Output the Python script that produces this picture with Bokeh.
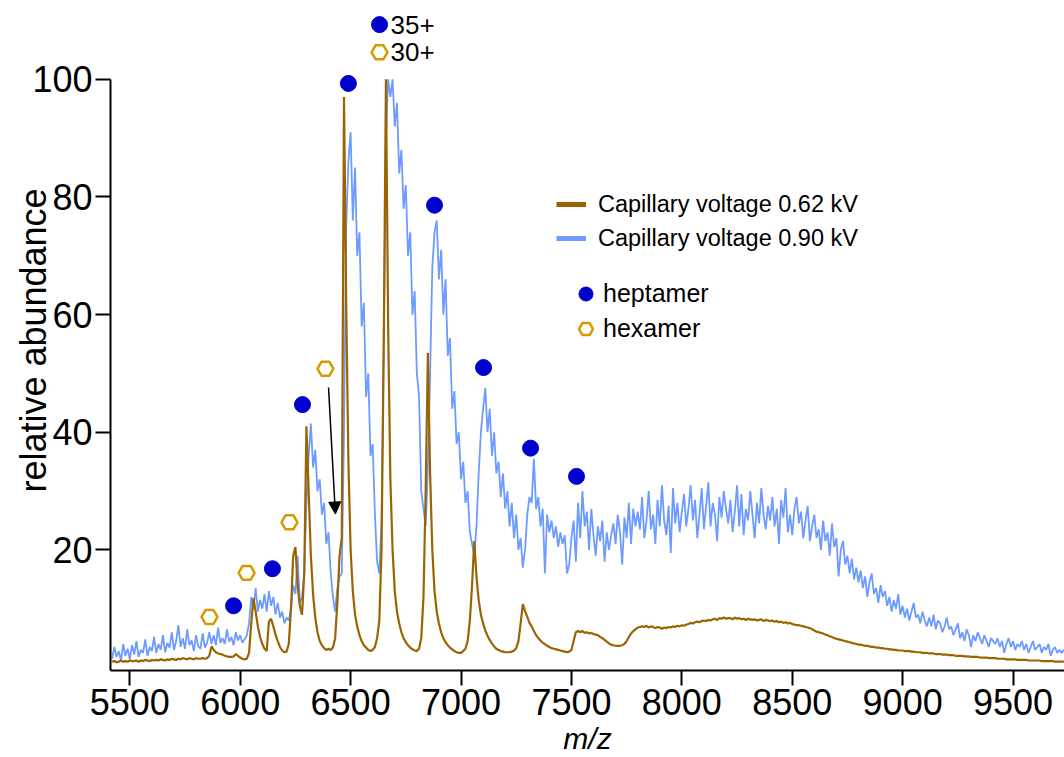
import math
from bokeh.plotting import figure
from bokeh.models import (Range1d, Legend, LegendItem, Arrow, NormalHead, FixedTicker)
from bokeh.core.properties import value
from bokeh.embed import file_html
from bokeh.resources import INLINE

# ---------------- data ----------------
mz_start = 5420
mz_step = 10

# relative abundance, capillary voltage 0.62 kV (brown)
abund_062 = [
    1.0, 1.1, 0.9, 1.0, 1.2, 1.0, 1.1, 1.0, 1.2, 1.1,
    1.1, 1.2, 1.0, 1.2, 1.1, 1.3, 1.2, 1.1, 1.3, 1.2,
    1.3, 1.2, 1.4, 1.3, 1.2, 1.4, 1.3, 1.5, 1.4, 1.3,
    1.5, 1.4, 1.6, 1.5, 1.4, 1.6, 1.5, 1.4, 1.6, 1.5,
    1.5, 1.6, 1.5, 1.6, 2.0, 3.6, 3.0, 2.6, 2.4, 2.3,
    2.2, 2.0, 1.9, 1.8, 1.8, 1.9, 2.3, 2.0, 1.7, 1.5,
    1.4, 1.5, 2.5, 7.5, 11.8, 9.5, 7.0, 5.2, 4.0, 3.2,
    2.8, 7.8, 8.3, 7.0, 5.6, 4.5, 3.5, 2.9, 2.6, 2.7,
    4.0, 10.0, 19.0, 20.5, 14.0, 10.5, 9.0, 16.0, 41.0, 30.0,
    19.0, 12.5, 8.5, 6.0, 4.5, 3.8, 3.3, 3.0, 3.2, 3.0,
    3.4, 5.0, 11.0, 19.0, 22.0, 97.0, 62.0, 35.0, 20.0, 13.0,
    9.0, 7.0, 5.5, 4.5, 3.8, 3.4, 3.0, 2.8, 3.0, 3.5,
    5.0, 8.0, 20.0, 55.0, 100.0, 58.0, 32.0, 20.0, 13.0, 9.5,
    7.5, 6.0, 5.0, 4.3, 3.8, 3.4, 3.1, 2.9, 2.8, 3.2,
    5.0, 12.0, 30.0, 53.5, 33.0, 20.0, 13.0, 9.5, 7.5, 6.0,
    5.0, 4.3, 3.8, 3.4, 3.1, 2.8, 2.6, 2.5, 2.5, 2.8,
    3.2, 4.5, 8.0, 14.0, 21.5, 15.5, 11.5, 9.0, 7.5, 6.3,
    5.4, 4.7, 4.1, 3.6, 3.2, 3.0, 2.8, 2.7, 2.6, 2.6,
    2.6, 2.7, 2.9, 3.3, 4.5, 7.5, 10.8, 9.6, 8.6, 7.6,
    7.0, 6.2, 5.5, 5.0, 4.6, 4.2, 4.0, 3.7, 3.5, 3.3,
    3.2, 3.1, 3.0, 2.9, 2.8, 2.7, 2.6, 2.7, 3.0, 4.5,
    6.0, 6.2, 6.0, 6.2, 5.9, 6.0, 5.8, 5.9, 5.7, 5.6,
    5.5, 5.2, 5.0, 4.7, 4.4, 4.1, 3.9, 3.8, 3.7, 3.7,
    3.7, 3.8, 4.0, 4.5, 5.2, 5.8, 6.2, 6.5, 6.8, 6.9,
    7.0, 6.9, 7.1, 6.8, 7.0, 6.9, 6.7, 6.9, 6.8, 6.6,
    6.8, 6.7, 6.9, 6.8, 7.0, 6.9, 7.1, 7.0, 7.2, 7.1,
    7.3, 7.4, 7.6, 7.5, 7.7, 7.8, 7.7, 7.9, 8.0, 7.9,
    8.1, 8.0, 8.2, 8.3, 8.1, 8.4, 8.3, 8.5, 8.3, 8.4,
    8.4, 8.2, 8.5, 8.3, 8.4, 8.2, 8.3, 8.1, 8.3, 8.2,
    8.1, 8.2, 8.0, 8.1, 8.2, 7.9, 8.1, 8.0, 7.9, 8.0,
    7.8, 7.9, 7.7, 7.8, 7.6, 7.7, 7.5, 7.6, 7.4, 7.3,
    7.2, 7.2, 7.1, 7.0, 6.9, 6.8, 6.7, 6.5, 6.3, 6.1,
    6.0, 5.9, 5.8, 5.6, 5.5, 5.3, 5.2, 5.0, 4.9, 4.8,
    4.7, 4.6, 4.5, 4.4, 4.3, 4.2, 4.1, 4.0, 3.9, 3.9,
    3.8, 3.7, 3.7, 3.6, 3.5, 3.5, 3.4, 3.4, 3.3, 3.3,
    3.2, 3.2, 3.1, 3.1, 3.0, 3.0, 2.9, 2.9, 2.9, 2.8,
    2.8, 2.8, 2.7, 2.7, 2.6, 2.6, 2.6, 2.5, 2.5, 2.5,
    2.4, 2.4, 2.4, 2.3, 2.3, 2.3, 2.2, 2.2, 2.2, 2.1,
    2.1, 2.1, 2.0, 2.0, 2.0, 2.0, 1.9, 1.9, 1.9, 1.8,
    1.8, 1.8, 1.8, 1.7, 1.7, 1.7, 1.7, 1.6, 1.6, 1.6,
    1.6, 1.5, 1.5, 1.5, 1.5, 1.4, 1.4, 1.4, 1.4, 1.4,
    1.3, 1.3, 1.3, 1.3, 1.3, 1.2, 1.2, 1.2, 1.2, 1.2,
    1.2, 1.1, 1.1, 1.1, 1.1, 1.1, 1.1, 1.0, 1.0, 1.0,
    1.0, 1.0,
]

# relative abundance, capillary voltage 0.90 kV (light blue)
abund_090 = [
    1.5, 3.5, 1.8, 2.8, 1.2, 4.0, 2.0, 3.2, 1.4, 3.8,
    2.2, 4.5, 1.8, 3.0, 2.5, 4.8, 2.0, 3.5, 2.8, 5.2,
    2.5, 4.0, 3.0, 5.5, 2.6, 4.2, 3.4, 6.0, 3.0, 4.5,
    7.2, 3.5, 5.0, 3.2, 6.5, 3.8, 4.6, 2.8, 5.5, 3.6,
    3.2, 5.8, 3.4, 4.2, 6.0, 4.0, 5.5, 3.8, 6.8, 4.2,
    5.0, 4.0, 6.5, 4.4, 5.2, 3.8, 6.0, 4.6, 5.5, 4.2,
    4.8, 5.5, 7.5, 12.0, 10.0, 13.5, 9.5, 11.5, 10.0, 12.5,
    9.5, 13.0, 10.5, 12.0, 9.0, 11.0, 8.5, 9.5, 7.5, 8.5,
    8.0, 10.0, 14.0, 12.5, 19.0, 11.0, 12.0, 16.0, 28.0, 36.0,
    41.5, 34.0, 37.0, 30.0, 32.0, 26.0, 28.0, 21.0, 23.0, 16.0,
    12.0, 9.5, 13.5, 15.5, 16.0, 40.0, 75.0, 86.0, 91.0, 76.0,
    85.0, 70.0, 74.0, 58.0, 62.0, 46.0, 50.0, 36.0, 38.0, 26.0,
    18.0, 16.0, 25.0, 55.0, 90.0, 100.0, 97.0, 100.0, 92.0, 96.0,
    84.0, 88.0, 78.0, 82.0, 70.0, 74.0, 60.0, 64.0, 50.0, 46.0,
    30.0, 27.0, 24.0, 34.0, 50.0, 68.0, 74.0, 76.0, 66.0, 71.0,
    60.0, 66.0, 53.0, 56.0, 44.0, 47.0, 38.0, 40.0, 32.0, 35.0,
    28.0, 30.0, 23.0, 21.0, 19.0, 24.0, 33.0, 40.0, 44.0, 47.5,
    40.0, 44.0, 36.0, 40.0, 33.0, 35.0, 29.0, 33.0, 27.0, 30.0,
    24.0, 28.0, 22.0, 26.0, 20.0, 22.0, 17.0, 20.0, 26.0, 29.0,
    28.0, 35.5, 27.0, 29.0, 24.0, 27.0, 16.0, 26.0, 23.0, 25.0,
    22.0, 24.0, 20.5, 23.0, 21.0, 22.5, 16.0, 17.5, 22.0, 25.0,
    18.0, 28.0, 22.0, 30.0, 24.0, 26.5, 20.0, 27.0, 22.5, 19.0,
    24.0, 21.5, 25.0, 18.0, 23.0, 20.0, 22.5, 24.5, 21.0, 26.0,
    23.0, 17.5, 25.5, 22.0, 28.0, 21.0, 27.0, 24.0, 26.5, 23.5,
    29.0, 22.0, 25.0, 30.0, 23.5, 26.0, 21.0, 28.5, 24.0, 31.0,
    25.0, 22.5, 27.5, 19.5, 30.5, 24.5, 28.0, 23.0, 26.5, 29.5,
    24.0, 27.0, 31.0, 25.0, 28.5, 22.0, 26.0, 30.5, 23.5, 27.5,
    31.5, 24.0, 28.0, 26.0, 21.5, 29.0, 25.5, 30.0, 27.0, 24.5,
    28.5, 23.0, 26.5, 31.0, 24.0, 29.5, 22.5, 27.0, 25.0, 30.0,
    26.0, 22.0, 28.0, 24.5, 30.5, 26.0, 23.5, 27.5, 25.0, 29.0,
    24.0, 27.0, 21.0, 28.5, 25.5, 30.5, 23.0, 26.0, 22.5, 27.0,
    29.0, 24.5, 26.5, 22.0, 25.0, 27.5, 21.5, 24.0, 26.0, 22.0,
    23.5, 20.0, 25.0, 21.5, 23.0, 19.0, 24.5, 20.5, 22.0, 15.5,
    20.0, 21.5, 17.5, 19.0, 16.0, 18.5, 15.0, 17.0, 14.5, 16.5,
    13.5, 15.5, 12.0, 14.5, 16.0, 12.5, 13.5, 11.0, 14.0, 12.0,
    13.0, 10.5, 12.0, 9.5, 11.5, 10.0, 12.5, 9.0, 10.5, 8.5,
    10.0, 8.0, 9.5, 11.0, 8.5, 9.0, 7.5, 9.5, 8.0, 7.0,
    8.5, 7.0, 9.0, 6.5, 8.0, 7.5, 6.0, 7.0, 8.5, 6.5,
    7.0, 5.5, 6.5, 7.5, 5.0, 6.0, 4.5, 6.5, 5.5, 3.5,
    5.5, 4.5, 6.0, 5.0, 4.0, 5.5, 4.5, 3.5, 5.0, 4.5,
    4.0, 5.0, 3.5, 4.5, 2.5, 4.0, 5.0, 3.5, 4.5, 3.0,
    4.0, 3.5, 4.5, 3.0, 4.0, 2.5, 3.5, 4.5, 3.0, 3.5,
    4.0, 2.5, 3.5, 3.0, 4.0, 2.0, 3.0, 3.5, 2.5, 3.0,
    2.5, 3.0,
]

mz_062 = [mz_start + mz_step * i for i in range(len(abund_062))]
mz_090 = [mz_start + mz_step * i for i in range(len(abund_090))]

# charge-state markers
heptamer_mz = [5970, 6146, 6282, 6490, 6880, 7102, 7315, 7523]
heptamer_y = [10.5, 16.8, 44.7, 99.3, 78.6, 51.0, 37.3, 32.5]
hexamer_mz = [5861, 6029, 6223, 6386]
hexamer_y = [8.6, 16.1, 24.7, 50.8]

# key for the 35+/30+ labels
key_hept_mz = [6631]
key_hept_y = [109.3]
key_hex_mz = [6631]
key_hex_y = [104.6]
key_labels = ["35+", "30+"]
key_label_mz = [6631, 6631]
key_label_y = [109.3, 104.6]

# arrow (start, end)
arrow_mz = [6400, 6431]
arrow_y = [47.6, 26.1]

x_ticks = [5500, 6000, 6500, 7000, 7500, 8000, 8500, 9000, 9500]
y_ticks = [20, 40, 60, 80, 100]

series_labels = ["Capillary voltage 0.62 kV", "Capillary voltage 0.90 kV"]
marker_labels = ["heptamer", "hexamer"]

BROWN = "#9B6400"
BLUE = "#6E9BFF"
HEPT = "#0000CC"
HEX = "#D69A00"
FONT = "Liberation Sans"
NAN = float("nan")

# ---------------- figure ----------------
p = figure(width=1064, height=757, output_backend="svg", toolbar_location=None,
           x_range=Range1d(5412.6, 9733), y_range=Range1d(-0.5, 111.7),
           min_border_left=110, min_border_right=0, min_border_top=10,
           min_border_bottom=85)
p.outline_line_color = None
p.grid.visible = False
p.background_fill_color = "white"

p.xaxis.ticker = FixedTicker(ticks=x_ticks)
p.yaxis.ticker = FixedTicker(ticks=y_ticks)
p.yaxis.bounds = (-0.5, 100)
for ax in (p.xaxis[0], p.yaxis[0]):
    ax.axis_line_width = 2
    ax.axis_line_color = "black"
    ax.major_tick_line_width = 2
    ax.major_tick_line_color = "black"
    ax.major_tick_out = 15
    ax.major_tick_in = 0
    ax.minor_tick_out = 0
    ax.minor_tick_in = 0
    ax.major_label_text_font = FONT
    ax.major_label_text_font_size = "36px"
    ax.major_label_text_color = "black"
    ax.major_label_standoff = 3

p.xaxis.axis_label = "m/z"
p.xaxis.axis_label_text_font = FONT
p.xaxis.axis_label_text_font_style = "italic"
p.xaxis.axis_label_text_font_size = "30px"
p.xaxis.axis_label_text_color = "black"
p.xaxis.axis_label_standoff = 4

p.yaxis.axis_label = "relative abundance"
p.yaxis.axis_label_text_font = FONT
p.yaxis.axis_label_text_font_style = "normal"
p.yaxis.axis_label_text_font_size = "36px"
p.yaxis.axis_label_text_color = "black"
p.yaxis.axis_label_standoff = -25

# traces
p.line(mz_090, abund_090, line_color=BLUE, line_width=1.8)
p.line(mz_062, abund_062, line_color=BROWN, line_width=2.2)

# charge-state markers
r_hept = p.scatter(heptamer_mz, heptamer_y, marker="circle", size=16,
                   fill_color=HEPT, line_color=HEPT)
r_hex = p.scatter(hexamer_mz, hexamer_y, marker="hex", size=16,
                  fill_color=None, line_color=HEX, line_width=2.5)
p.scatter(key_hept_mz, key_hept_y, marker="circle", size=16,
          fill_color=HEPT, line_color=HEPT)
p.scatter(key_hex_mz, key_hex_y, marker="hex", size=16,
          fill_color=None, line_color=HEX, line_width=2.5)
p.text(key_label_mz, key_label_y, text=key_labels, x_offset=11,
       text_align="left", text_baseline="middle",
       text_font=value(FONT), text_font_size="26px", text_color="black")

# arrow
p.add_layout(Arrow(end=NormalHead(size=12, fill_color="black", line_color="black"),
                   x_start=arrow_mz[0], y_start=arrow_y[0],
                   x_end=arrow_mz[1], y_end=arrow_y[1],
                   line_color="black", line_width=1.5))

# legend line glyphs (thicker than the traces, no visible data)
lg_062 = p.line([NAN], [NAN], line_color=BROWN, line_width=5)
lg_090 = p.line([NAN], [NAN], line_color=BLUE, line_width=5)

leg1 = Legend(items=[LegendItem(label=series_labels[0], renderers=[lg_062]),
                     LegendItem(label=series_labels[1], renderers=[lg_090])],
              location=(446, 417), glyph_width=30, glyph_height=30, label_height=30,
              spacing=4, padding=0, margin=0, label_standoff=12,
              border_line_color=None, background_fill_alpha=0,
              label_text_font=FONT, label_text_font_size="23.5px", label_text_color="black")
leg2 = Legend(items=[LegendItem(label=marker_labels[0], renderers=[r_hept]),
                     LegendItem(label=marker_labels[1], renderers=[r_hex])],
              location=(458, 324), glyph_width=35, glyph_height=35, label_height=35,
              spacing=0, padding=0, margin=0, label_standoff=0,
              border_line_color=None, background_fill_alpha=0,
              label_text_font=FONT, label_text_font_size="25px", label_text_color="black")
p.add_layout(leg1)
p.add_layout(leg2)

open("out.html", "w").write(file_html(p, INLINE))
